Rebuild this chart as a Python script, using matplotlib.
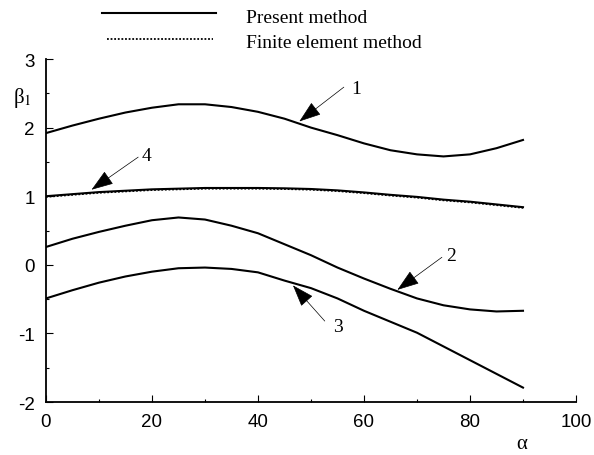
import matplotlib
matplotlib.use("Agg")
import matplotlib.pyplot as plt
from matplotlib.lines import Line2D
from matplotlib.ticker import MultipleLocator

plt.rcParams['font.family'] = ['Liberation Sans', 'DejaVu Sans']
plt.rcParams['mathtext.fontset'] = 'stix'
plt.rcParams['axes.unicode_minus'] = False

# --- data ---
alpha = [0, 5, 10, 15, 20, 25, 30, 35, 40, 45, 50, 55, 60, 65, 70, 75, 80, 85, 90]

beta_1 = [1.92, 2.03, 2.13, 2.22, 2.29, 2.34, 2.34, 2.30, 2.23, 2.13,
          2.00, 1.89, 1.77, 1.67, 1.61, 1.58, 1.61, 1.70, 1.82]
beta_2 = [0.26, 0.38, 0.48, 0.57, 0.65, 0.69, 0.66, 0.57, 0.46, 0.30,
          0.14, -0.04, -0.20, -0.35, -0.49, -0.59, -0.65, -0.68, -0.67]
beta_3 = [-0.49, -0.37, -0.26, -0.17, -0.10, -0.05, -0.04, -0.06, -0.11, -0.23,
          -0.34, -0.49, -0.67, -0.83, -0.99, -1.19, -1.39, -1.59, -1.79]
beta_4 = [1.00, 1.03, 1.06, 1.08, 1.10, 1.11, 1.12, 1.12, 1.12, 1.115,
          1.105, 1.085, 1.055, 1.02, 0.99, 0.95, 0.92, 0.88, 0.84]
# finite element result (only distinguishable on curve 4)
beta_4_fem = [0.99, 1.02, 1.05, 1.07, 1.09, 1.10, 1.11, 1.11, 1.11, 1.105,
              1.095, 1.075, 1.045, 1.01, 0.98, 0.94, 0.91, 0.87, 0.83]

curve_labels = ['1', '2', '3', '4']
arrow_tips = [(47.8, 2.09), (66.3, -0.365), (46.6, -0.30), (8.6, 1.095)]
arrow_tails = [(56.2, 2.59), (74.7, 0.11), (52.6, -0.82), (17.4, 1.57)]
label_pos = [(58.5, 2.575), (76.5, 0.14), (55.0, -0.90), (18.9, 1.60)]

fig = plt.figure(figsize=(5.94, 4.56), dpi=100)
ax = fig.add_axes([0.0774, 0.1162, 0.8923, 0.7522])

for b in [beta_1, beta_2, beta_3, beta_4]:
    ax.plot(alpha, b, color='black', lw=1.5)
ax.plot(alpha, beta_4_fem, color='black', lw=1.3, ls=(0, (1, 1)))

# --- axes styling ---
ax.set_xlim(0, 100)
ax.set_ylim(-2, 3)
ax.xaxis.set_major_locator(MultipleLocator(20))
ax.xaxis.set_minor_locator(MultipleLocator(10))
ax.yaxis.set_major_locator(MultipleLocator(1))
ax.yaxis.set_minor_locator(MultipleLocator(0.5))
ax.spines['top'].set_visible(False)
ax.spines['right'].set_visible(False)
for s in ['left', 'bottom']:
    ax.spines[s].set_linewidth(1.3)
ax.tick_params(which='both', direction='in', top=False, right=False,
               labelsize=13.5, pad=8, width=0.8)
ax.tick_params(which='major', length=5)
ax.tick_params(which='minor', length=2.5)

ax.text(-0.045, 0.889, 'β$_1$', transform=ax.transAxes, fontsize=15,
        family='Liberation Serif', ha='center', va='center')
ax.text(0.8975, -0.122, 'α', transform=ax.transAxes, fontsize=15,
        family='Liberation Serif', ha='center', va='center')

# --- curve labels with arrows ---
for lab, tip, tail, pos in zip(curve_labels, arrow_tips, arrow_tails, label_pos):
    ax.annotate('', xy=tip, xytext=tail,
                arrowprops=dict(arrowstyle='-|>,head_length=1.0,head_width=0.35',
                                color='black', lw=0.5, mutation_scale=14,
                                shrinkA=0, shrinkB=0))
    ax.text(pos[0], pos[1], lab, fontsize=14, family='Liberation Serif',
            ha='center', va='center')

# --- legend drawn above the axes ---
fig.add_artist(Line2D([0.171, 0.364], [0.969, 0.969], color='black', lw=1.5))
fig.add_artist(Line2D([0.180, 0.359], [0.912, 0.912], color='black', lw=1.3,
                      ls=(0, (1, 1))))
fig.text(0.4136, 0.96, 'Present method', fontsize=14, family='Liberation Serif',
         va='center')
fig.text(0.4136, 0.905, 'Finite element method', fontsize=14,
         family='Liberation Serif', va='center')

fig.savefig('out.png', dpi=100)
